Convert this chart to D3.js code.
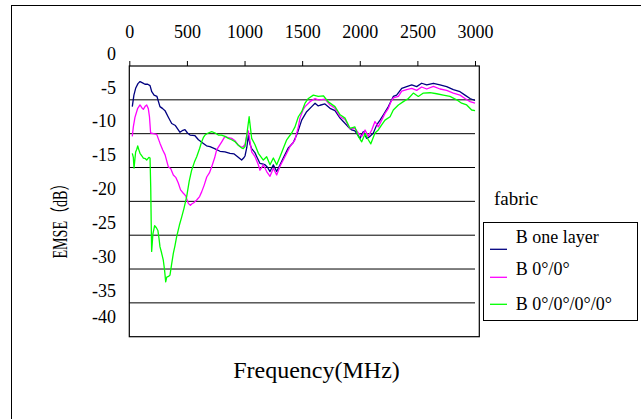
<!DOCTYPE html>
<html>
<head>
<meta charset="utf-8">
<script src="https://cdn.jsdelivr.net/npm/d3@7"></script>
<style>
html,body{margin:0;padding:0;background:#fff;}
svg{display:block;}
text{font-family:"Liberation Serif","Times New Roman",serif;fill:#000;}
</style>
</head>
<body>
<svg id="chart" width="641" height="419"></svg>
<script>
// ---- data ----
const xTicks = [0, 500, 1000, 1500, 2000, 2500, 3000];
const yTicks = [0, -5, -10, -15, -20, -25, -30, -35, -40];
const seriesNames = ["B one layer", "B 0\u00b0/0\u00b0", "B 0\u00b0/0\u00b0/0\u00b0/0\u00b0"];
const seriesColors = ["#000080", "#ff00ff", "#00ff00"];

// [frequency MHz, EMSE dB]
const oneLayer = [[26,-6.0],[40,-4.3],[55,-3.3],[75,-2.6],[93,-2.3],[115,-2.5],[136,-2.7],[160,-2.7],[180,-2.9],[195,-3.8],[215,-4.3],[240,-4.5],[266,-6.0],[290,-6.3],[310,-6.6],[340,-7.6],[368,-8.5],[400,-8.8],[440,-9.8],[465,-9.5],[483,-9.4],[505,-9.9],[527,-10.2],[570,-10.3],[600,-10.9],[640,-11.4],[670,-11.8],[700,-11.9],[740,-12.2],[787,-12.6],[830,-12.7],[874,-12.9],[910,-13.0],[940,-13.4],[975,-13.9],[992,-13.6],[1004,-13.3],[1020,-12.0],[1033,-10.3],[1048,-11.6],[1062,-12.2],[1090,-12.8],[1106,-13.4],[1134,-14.4],[1163,-14.5],[1178,-14.6],[1200,-15.0],[1221,-15.6],[1250,-14.6],[1279,-15.6],[1308,-14.6],[1336,-13.6],[1380,-12.1],[1423,-11.3],[1452,-10.2],[1467,-9.5],[1496,-8.0],[1539,-6.75],[1583,-6.0],[1612,-5.5],[1640,-5.9],[1655,-5.8],[1698,-5.6],[1742,-6.25],[1785,-6.6],[1829,-7.7],[1857,-8.2],[1900,-9.0],[1930,-9.45],[1958,-9.6],[1987,-10.3],[2002,-10.7],[2031,-9.7],[2060,-10.7],[2089,-10.4],[2118,-9.9],[2147,-8.7],[2176,-8.0],[2205,-7.2],[2248,-6.0],[2291,-4.5],[2320,-4.3],[2364,-3.3],[2407,-3.05],[2451,-2.8],[2494,-3.05],[2537,-2.55],[2581,-2.8],[2639,-2.55],[2696,-2.8],[2754,-3.05],[2812,-3.5],[2870,-3.8],[2913,-4.3],[2957,-4.8],[3000,-5.1]];

const twoLayer = [[26,-10.4],[35,-9.0],[49,-7.6],[73,-6.25],[93,-5.76],[110,-6.2],[122,-6.4],[140,-5.9],[151,-5.76],[165,-6.3],[175,-7.5],[185,-9.9],[210,-10.0],[238,-10.1],[266,-11.4],[290,-12.4],[310,-13.1],[339,-14.9],[360,-15.2],[382,-16.1],[405,-16.5],[425,-17.3],[445,-18.3],[469,-18.8],[490,-19.2],[512,-20.3],[530,-20.6],[541,-20.4],[560,-20.2],[585,-19.8],[610,-19.3],[628,-18.6],[650,-17.6],[672,-16.4],[695,-15.8],[715,-14.9],[740,-13.6],[758,-12.4],[780,-11.8],[802,-11.2],[830,-10.4],[860,-10.6],[888,-10.7],[915,-11.0],[946,-11.7],[975,-12.0],[989,-11.9],[1004,-11.6],[1020,-10.2],[1033,-9.6],[1048,-11.2],[1062,-12.7],[1091,-13.4],[1120,-14.6],[1134,-15.4],[1163,-14.6],[1192,-15.6],[1221,-16.3],[1250,-15.1],[1279,-16.1],[1308,-14.8],[1336,-13.9],[1366,-12.9],[1395,-11.9],[1438,-10.9],[1467,-9.0],[1481,-7.7],[1510,-6.4],[1525,-6.0],[1568,-5.27],[1612,-4.8],[1640,-5.0],[1655,-5.0],[1698,-4.9],[1742,-5.76],[1785,-6.25],[1829,-7.5],[1872,-7.9],[1900,-8.8],[1915,-9.3],[1958,-9.2],[1987,-9.9],[2017,-10.4],[2046,-9.45],[2074,-10.4],[2104,-9.45],[2132,-8.2],[2161,-9.0],[2190,-8.0],[2219,-7.0],[2248,-6.25],[2270,-5.3],[2291,-4.7],[2335,-4.5],[2364,-3.7],[2407,-3.5],[2451,-3.3],[2494,-3.6],[2537,-3.1],[2581,-3.4],[2639,-3.0],[2696,-3.4],[2754,-3.6],[2812,-4.0],[2870,-4.3],[2913,-4.8],[2957,-5.27],[3000,-5.5]];

const fourLayer = [[26,-12.9],[35,-13.5],[41,-15.1],[55,-12.7],[65,-12.3],[73,-11.8],[85,-12.5],[93,-12.9],[110,-13.3],[122,-13.6],[140,-13.7],[151,-13.9],[170,-13.5],[180,-13.6],[186,-18.0],[190,-23.0],[194,-27.4],[205,-24.8],[220,-23.6],[235,-23.9],[248,-24.3],[258,-25.5],[266,-26.7],[280,-27.6],[295,-28.7],[305,-30.0],[316,-31.9],[325,-31.2],[340,-31.1],[353,-30.9],[368,-29.2],[382,-27.7],[397,-26.5],[411,-25.2],[435,-23.5],[455,-22.3],[475,-21.0],[498,-19.3],[520,-17.0],[541,-15.4],[565,-14.2],[585,-13.4],[610,-12.2],[628,-11.2],[645,-10.5],[657,-10.2],[685,-9.9],[715,-9.7],[745,-9.9],[772,-10.2],[800,-10.2],[830,-10.4],[860,-10.7],[888,-10.9],[918,-11.2],[946,-11.7],[975,-12.1],[989,-12.2],[1004,-11.9],[1018,-10.4],[1040,-7.5],[1062,-10.7],[1090,-11.6],[1120,-12.9],[1163,-13.9],[1192,-13.4],[1221,-14.6],[1250,-13.6],[1279,-14.6],[1308,-13.4],[1336,-12.2],[1366,-10.9],[1409,-9.9],[1438,-9.0],[1467,-7.5],[1496,-6.75],[1525,-5.5],[1554,-4.8],[1597,-4.3],[1640,-4.5],[1684,-4.4],[1727,-5.3],[1785,-6.0],[1829,-7.2],[1872,-7.7],[1915,-9.2],[1958,-9.0],[1987,-10.4],[2017,-11.2],[2046,-10.0],[2074,-10.9],[2096,-11.5],[2132,-9.9],[2161,-9.45],[2190,-8.7],[2219,-8.0],[2263,-7.5],[2291,-6.5],[2335,-5.76],[2378,-5.27],[2422,-4.8],[2465,-4.0],[2508,-4.5],[2552,-4.0],[2610,-3.95],[2668,-4.1],[2725,-4.3],[2783,-4.5],[2841,-5.0],[2884,-5.5],[2928,-5.76],[2971,-6.5],[3000,-6.6]];

const allSeries = [oneLayer, twoLayer, fourLayer];

// ---- layout ----
const svg = d3.select("#chart");
const plot = {left: 129.3, right: 479.3, top: 66, bottom: 336.7};
const x = d3.scaleLinear().domain([0, 3000]).range([plot.left, 475]);
const y = d3.scaleLinear().domain([0, -40]).range([plot.top, plot.bottom]);

// outer frame
svg.append("rect").attr("x", 11.5).attr("y", 5.5).attr("width", 660).attr("height", 440)
  .attr("fill", "#fff").attr("stroke", "#000").attr("stroke-width", 1);

// gridlines
svg.append("g").selectAll("line").data(yTicks.filter(d => d < 0 && d > -40)).join("line")
  .attr("x1", plot.left).attr("x2", x(3000))
  .attr("y1", d => y(d)).attr("y2", d => y(d))
  .attr("stroke", "#000").attr("stroke-width", 1);

// plot border
svg.append("rect").attr("x", plot.left).attr("y", plot.top)
  .attr("width", plot.right - plot.left).attr("height", plot.bottom - plot.top)
  .attr("fill", "none").attr("stroke", "#000").attr("stroke-width", 1.2);

// top x axis
const xAxis = d3.axisTop(x).tickValues(xTicks).tickSize(5).tickPadding(23).tickFormat(d3.format("d"));
const gx = svg.append("g").attr("transform", `translate(0,${plot.top})`).call(xAxis);
gx.select(".domain").remove();
gx.selectAll(".tick line").attr("stroke", "#000");
gx.selectAll(".tick text").attr("font-size", 18).attr("font-family", "Liberation Serif, serif").attr("fill", "#000");

// y tick labels (offset above their gridlines)
svg.append("g").selectAll("text").data(yTicks).join("text")
  .attr("x", 116)
  .attr("y", d => Math.min(y(d) - 12.5, plot.bottom - 20))
  .attr("dy", "0.35em")
  .attr("text-anchor", "end")
  .attr("font-size", 18)
  .text(d => d);

// series lines
const line = d3.line().x(d => x(d[0])).y(d => y(d[1]));
svg.append("g").selectAll("path").data(allSeries).join("path")
  .attr("d", line)
  .attr("fill", "none")
  .attr("stroke", (d, i) => seriesColors[i])
  .attr("stroke-width", 1.3)
  .attr("stroke-linejoin", "round");

// axis titles
svg.append("text").attr("x", 316.5).attr("y", 378).attr("text-anchor", "middle")
  .attr("font-size", 24).text("Frequency(MHz)");
svg.append("text").attr("transform", "translate(67,217.5) rotate(-90)")
  .attr("text-anchor", "middle").attr("font-size", 20)
  .attr("textLength", 82).attr("lengthAdjust", "spacingAndGlyphs")
  .style("font-family", "'Liberation Serif','Noto Sans CJK TC',serif")
  .text("EMSE\uff08dB\uff09");

// legend
svg.append("text").attr("x", 494).attr("y", 205).attr("font-size", 19).text("fabric");
svg.append("rect").attr("x", 483.5).attr("y", 222.5).attr("width", 154).attr("height", 98)
  .attr("fill", "#fff").attr("stroke", "#000").attr("stroke-width", 1);
const legLineY = [249.3, 277.3, 304.3];
const legTextY = [242.7, 275, 310];
const leg = svg.append("g");
leg.selectAll("line").data(seriesNames).join("line")
  .attr("x1", 490).attr("x2", 507)
  .attr("y1", (d, i) => legLineY[i]).attr("y2", (d, i) => legLineY[i])
  .attr("stroke", (d, i) => seriesColors[i]).attr("stroke-width", 1.3);
leg.selectAll("text").data(seriesNames).join("text")
  .attr("x", 515.7).attr("y", (d, i) => legTextY[i])
  .attr("font-size", 18).text(d => d);
</script>
</body>
</html>
